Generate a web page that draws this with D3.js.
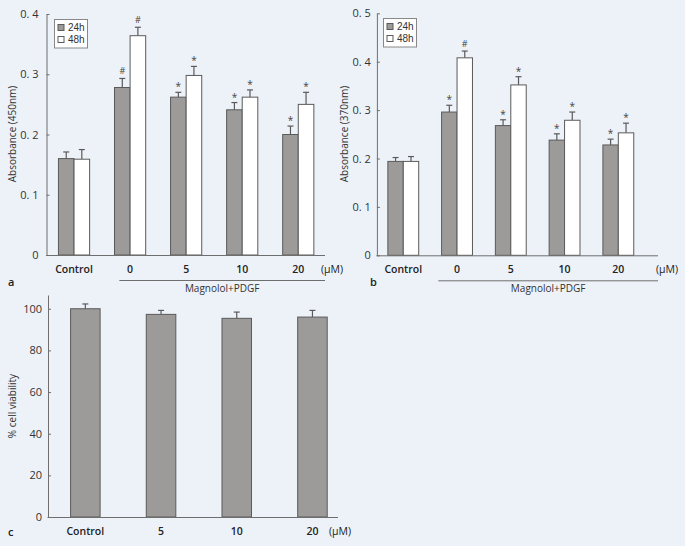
<!DOCTYPE html>
<html><head><meta charset="utf-8">
<script src="https://cdn.jsdelivr.net/npm/d3@7"></script>
<style>
html,body{margin:0;padding:0;background:#edf2f9;}
svg{display:block;font-family:"Open Sans",sans-serif;}
</style></head><body>
<svg id="c" width="685" height="546"></svg>
<script>
// ---- data ----
const categoriesAB = ["Control","0","5","10","20"];
const seriesNames = ["24h","48h"];
const a24 = [0.160,0.278,0.262,0.241,0.200];
const a48 = [0.159,0.364,0.298,0.262,0.250];
const a24err = [0.011,0.015,0.008,0.012,0.014];
const a48err = [0.016,0.014,0.015,0.012,0.020];
const a24mark = ["","#","*","*","*"];
const a48mark = ["","#","*","*","*"];
const aTicks = [0,0.1,0.2,0.3,0.4];

const b24 = [0.194,0.296,0.268,0.238,0.228];
const b48 = [0.194,0.408,0.352,0.279,0.253];
const b24err = [0.008,0.014,0.012,0.013,0.012];
const b48err = [0.010,0.014,0.017,0.017,0.020];
const b24mark = ["","*","*","*","*"];
const b48mark = ["","#","*","*","*"];
const bTicks = [0,0.1,0.2,0.3,0.4,0.5];

const categoriesC = ["Control","5","10","20"];
const cVals = [100,97.3,95.4,96.0];
const cErr = [2.3,1.9,3.0,3.2];
const cTicks = [0,20,40,60,80,100];

const svg = d3.select("#c");
const axisCol = "#6e6e6e", barStroke = "#5a5a5a", grayFill = "#9c9b99";

function tickFmt(d){ return d===0 ? "0" : d3.format(".1f")(d).replace(".", ". "); }

function yAxis(g, y, ticks, fmt, gap){
  const ax = d3.axisLeft(y).tickValues(ticks).tickSize(-3).tickPadding(gap).tickFormat(fmt).tickSizeOuter(0);
  g.call(ax);
  g.select(".domain").attr("stroke", axisCol);
  g.selectAll(".tick line").attr("stroke", axisCol);
  g.selectAll(".tick text").attr("fill","#333").style("font-size","11px").style("font-family","'Open Sans',sans-serif");
}

function groupedPanel(o){
  const x = d3.scaleBand().domain(categoriesAB).range(o.xr).padding(0);
  const y = d3.scaleLinear().domain(o.yd).range(o.yr);
  const bw = x.bandwidth()*o.barFrac;
  const g = svg.append("g");
  yAxis(g.append("g").attr("transform",`translate(${o.xr[0]+0.5},0)`), y, o.ticks, tickFmt, o.gap);
  const series = [
    {name:"24h", vals:o.v24, err:o.e24, mark:o.m24, fill:grayFill, off:-1},
    {name:"48h", vals:o.v48, err:o.e48, mark:o.m48, fill:"#ffffff", off:0}
  ];
  series.forEach(s=>{
    categoriesAB.forEach((c,i)=>{
      const cx = x(c)+x.bandwidth()/2;
      const x0 = cx + s.off*bw;
      const xm = x0 + bw/2;
      const top = y(s.vals[i]+s.err[i]);
      g.append("line").attr("x1",xm).attr("x2",xm).attr("y1",y(s.vals[i])).attr("y2",top).attr("stroke",barStroke).attr("stroke-width",1.2);
      g.append("line").attr("x1",xm-3).attr("x2",xm+3).attr("y1",top).attr("y2",top).attr("stroke",barStroke).attr("stroke-width",1.2);
      g.append("rect").attr("x",x0).attr("y",y(s.vals[i])).attr("width",bw).attr("height",y(0)-y(s.vals[i]))
        .attr("fill",s.fill).attr("stroke",barStroke).attr("stroke-width",1);
      if(s.mark[i]){
        const m = s.mark[i];
        g.append("text").attr("x",xm).attr("y", m==="#" ? top-4 : top-2).attr("text-anchor","middle")
          .style("font-size", m==="#" ? "9px" : "10px").attr("fill","#444").text(m);
      }
    });
  });
  g.append("line").attr("x1",o.xr[0]).attr("x2",o.xEnd).attr("y1",y(0)+0.5).attr("y2",y(0)+0.5).attr("stroke",axisCol);
  categoriesAB.forEach(c=>{
    g.append("text").attr("x",x(c)+x.bandwidth()/2).attr("y",y(0)+18).attr("text-anchor","middle")
      .style("font-size","10.5px").style("font-weight","600").attr("fill","#222").text(c);
  });
  g.append("text").attr("x",o.umX).attr("y",y(0)+18).style("font-size","10.5px").attr("fill","#222").text("(\u00b5M)");
  const lx0 = x("0")+x.bandwidth()/2 - o.lineLeft;
  g.append("line").attr("x1",lx0).attr("x2",o.xEnd).attr("y1",y(0)+25.5).attr("y2",y(0)+25.5).attr("stroke",axisCol);
  g.append("text").attr("x",(lx0+o.xEnd)/2).attr("y",y(0)+37).attr("text-anchor","middle")
    .style("font-size","10px").attr("fill","#333").text("Magnolol+PDGF");
  g.append("text").attr("x",o.letterX).attr("y",y(0)+31).style("font-size","11px").style("font-weight","600").attr("fill","#222").text(o.letter);
  g.append("text").attr("transform",`translate(${o.titleX},${o.titleY}) rotate(-90)`).attr("text-anchor","middle")
    .style("font-size","10px").attr("fill","#333").text(o.title);
  // legend
  const lg = g.append("g").attr("transform",`translate(${o.leg[0]},${o.leg[1]})`);
  lg.append("rect").attr("x",0.5).attr("y",0.5).attr("width",33).attr("height",28.5).attr("fill","#fff").attr("stroke","#888");
  seriesNames.forEach((n,i)=>{
    lg.append("rect").attr("x",4).attr("y",5.5+i*12).attr("width",6).attr("height",6)
      .attr("fill", i===0?grayFill:"#fff").attr("stroke",barStroke);
    lg.append("text").attr("x",14).attr("y",12+i*12).style("font-size","10px")
      .style("font-family","'Liberation Sans',sans-serif").attr("fill","#333").text(n);
  });
}

groupedPanel({xr:[46,326.3], xEnd:325, yd:[0,0.4], yr:[255,14], ticks:aTicks, gap:8, barFrac:0.278,
  v24:a24, v48:a48, e24:a24err, e48:a48err, m24:a24mark, m48:a48mark,
  umX:321, lineLeft:10.7, letter:"a", letterX:8, title:"Absorbance (450nm)", titleX:16, titleY:134, leg:[54,19]});

groupedPanel({xr:[376.4,645.2], xEnd:658, yd:[0,0.5], yr:[255.3,13.3], ticks:bTicks, gap:6, barFrac:0.287,
  v24:b24, v48:b48, e24:b24err, e48:b48err, m24:b24mark, m48:b48mark,
  umX:656, lineLeft:18.7, letter:"b", letterX:370, title:"Absorbance (370nm)", titleX:348, titleY:134, leg:[383,18]});

// ---- panel c ----
(function(){
  const x = d3.scaleBand().domain(categoriesC).range([47.5,350.3]).padding(0);
  const y = d3.scaleLinear().domain([0,106.6]).range([517,295]);
  const bw = x.bandwidth()*0.39;
  const g = svg.append("g");
  yAxis(g.append("g").attr("transform",`translate(48,0)`), y, cTicks, d=>d, 6);
  categoriesC.forEach((c,i)=>{
    const cx = x(c)+x.bandwidth()/2;
    const top = y(cVals[i]+cErr[i]);
    g.append("line").attr("x1",cx).attr("x2",cx).attr("y1",y(cVals[i])).attr("y2",top).attr("stroke",barStroke).attr("stroke-width",1.2);
    g.append("line").attr("x1",cx-3).attr("x2",cx+3).attr("y1",top).attr("y2",top).attr("stroke",barStroke).attr("stroke-width",1.2);
    g.append("rect").attr("x",cx-bw/2).attr("y",y(cVals[i])).attr("width",bw).attr("height",y(0)-y(cVals[i]))
      .attr("fill",grayFill).attr("stroke",barStroke);
    g.append("text").attr("x",cx).attr("y",y(0)+18).attr("text-anchor","middle")
      .style("font-size","10.5px").style("font-weight","600").attr("fill","#222").text(c);
  });
  g.append("line").attr("x1",47.5).attr("x2",338).attr("y1",y(0)+0.5).attr("y2",y(0)+0.5).attr("stroke",axisCol);
  g.append("text").attr("x",329).attr("y",y(0)+18).style("font-size","10.5px").attr("fill","#222").text("(\u00b5M)");
  g.append("text").attr("x",8).attr("y",y(0)+19).style("font-size","11px").style("font-weight","600").attr("fill","#222").text("c");
  g.append("text").attr("transform",`translate(16,406) rotate(-90)`).attr("text-anchor","middle")
    .style("font-size","10px").attr("fill","#333").text("% cell viability");
})();
</script>
</body></html>
